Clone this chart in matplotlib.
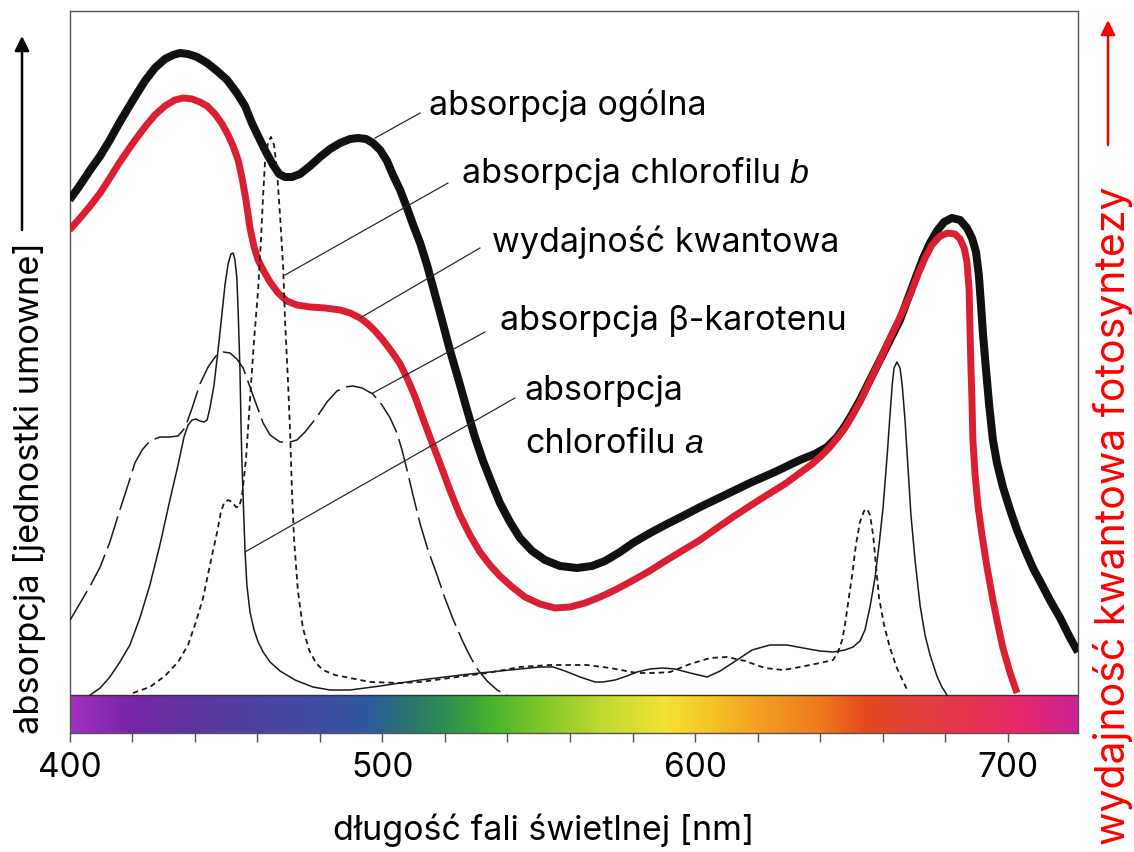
import numpy as np
import matplotlib
matplotlib.use("Agg")
import matplotlib.pyplot as plt
from matplotlib.colors import LinearSegmentedColormap

plt.rcParams['font.family'] = ['Inter', 'DejaVu Sans']

# ---------------- data (x: wavelength nm, y: arbitrary units) ----------------
total_nm = [400.0, 403.4, 406.6, 409.8, 412.9, 416.1, 420.3, 424.1, 427.3, 430.5,
            433.1, 435.3, 437.9, 440.8, 444.0, 447.2, 450.4, 453.5, 456.1, 458.3,
            460.6, 462.8, 465.1, 467.0, 468.9, 471.1, 473.7, 476.9, 480.1, 483.3,
            486.5, 489.7, 492.2, 494.8, 497.0, 499.3, 501.5, 503.4, 505.7, 507.9,
            510.1, 512.1, 514.3, 516.2, 518.8, 521.6, 524.2, 527.1, 529.6, 532.2,
            535.1, 537.6, 540.8, 544.0, 547.9, 552.0, 556.8, 562.2, 567.0, 571.2,
            576.0, 580.1, 585.6, 590.4, 596.1, 601.6, 609.6, 617.5, 625.5, 633.5,
            638.3, 642.2, 645.4, 647.9, 650.2, 652.7, 655.9, 659.1, 662.3, 665.5,
            669.4, 672.9, 675.1, 677.3, 679.6, 682.1, 684.7, 686.9, 688.5, 689.8,
            690.7, 691.4, 692.0, 693.0, 694.0, 695.2, 696.5, 698.4, 700.7, 702.9,
            705.5, 708.0, 710.9, 713.4, 716.7, 719.9, 722.4]
total_abs = [495, 510, 525, 539, 555, 573, 595, 614, 627, 636,
             640, 642, 641, 638, 632, 624, 615, 602, 589, 572,
             557, 543, 530, 521, 518, 518, 521, 529, 538, 546,
             552, 556, 557, 556, 552, 545, 534, 520, 505, 487,
             468, 452, 430, 408, 378, 345, 317, 285, 258, 234,
             211, 192, 173, 157, 144, 135, 129, 127, 129, 134,
             143, 152, 162, 170, 179, 188, 200, 212, 223, 235,
             241, 248, 258, 269, 281, 295, 315, 335, 355, 375,
             408, 437, 452, 464, 473, 477, 475, 467, 457, 443,
             420, 390, 362, 325, 290, 255, 232, 208, 185, 165,
             145, 127, 110, 95, 77, 57, 43]

qy_nm = [400.0, 403.4, 406.6, 409.8, 412.9, 416.1, 420.3, 424.1, 427.3, 430.5,
         433.7, 436.3, 439.2, 441.7, 444.0, 446.5, 448.8, 450.7, 452.3, 453.9,
         455.1, 456.4, 457.7, 459.0, 460.3, 461.9, 464.1, 466.7, 469.5, 472.7,
         476.9, 481.7, 486.5, 489.7, 492.9, 495.4, 497.7, 500.2, 503.1, 505.7,
         508.2, 510.5, 512.7, 515.2, 518.4, 521.6, 524.8, 528.0, 531.2, 534.4,
         537.6, 541.5, 545.6, 550.4, 555.2, 560.0, 564.8, 569.6, 574.4, 579.2,
         584.9, 591.0, 596.8, 601.6, 607.0, 612.1, 617.5, 623.0, 628.7, 633.5,
         637.4, 640.6, 643.1, 645.7, 647.9, 650.2, 652.7, 655.9, 659.1, 662.3,
         665.5, 668.7, 671.3, 673.5, 675.7, 678.3, 680.8, 683.1, 684.7, 686.0,
         686.9, 687.6, 687.9, 688.2, 688.5, 688.8, 689.5, 690.4, 691.7, 693.3,
         695.2, 696.8, 698.4, 700.7, 702.9]
qy_val = [465, 477, 489, 502, 517, 533, 552, 568, 580, 589,
          595, 597, 596, 593, 589, 581, 571, 560, 549, 535,
          518, 495, 467, 448, 435, 425, 413, 402, 394, 390,
          388, 387, 385, 382, 377, 371, 364, 355, 343, 331,
          315, 298, 279, 258, 232, 205, 180, 160, 143, 130,
          119, 108, 98, 91, 87, 88, 92, 98, 105, 113,
          123, 135, 146, 155, 167, 178, 189, 200, 211, 222,
          231, 240, 248, 258, 267, 279, 293, 314, 335, 357,
          378, 400, 421, 437, 450, 459, 462, 461, 456, 447,
          433, 405, 362, 325, 295, 255, 220, 190, 160, 128,
          95, 70, 47, 22, 2]

chla_nm = [406.6, 409.8, 412.9, 416.1, 419.3, 422.5, 425.7, 428.9, 432.1, 434.7,
           436.6, 437.9, 439.2, 440.4, 441.7, 443.0, 444.0, 444.9, 446.2, 447.5,
           448.8, 449.7, 450.7, 451.6, 452.3, 452.9, 453.5, 453.9, 454.2, 454.5,
           454.8, 455.1, 455.5, 456.1, 456.7, 457.7, 459.0, 460.3, 461.9, 464.1,
           467.3, 472.1, 477.8, 483.3, 489.7, 499.3, 512.1, 528.0, 544.0, 550.4,
           554.6, 558.4, 563.2, 568.0, 570.5, 574.4, 578.2, 581.4, 585.6, 589.7,
           593.6, 598.4, 603.8, 608.0, 613.4, 618.2, 623.9, 629.4, 634.5, 639.9,
           644.1, 647.9, 650.5, 652.7, 654.3, 655.9, 657.5, 658.8, 660.1, 661.4,
           662.3, 663.0, 663.6, 664.5, 665.5, 666.2, 667.1, 668.1, 669.0, 670.3,
           671.9, 673.5, 675.1, 677.3, 678.9, 680.5]
chla_abs = [0, 7, 18, 33, 50, 77, 110, 150, 195, 230,
            258, 270, 275, 276, 274, 273, 275, 287, 310, 345,
            383, 410, 431, 441, 442, 435, 417, 385, 355, 325,
            275, 235, 198, 145, 110, 83, 65, 53, 43, 33,
            24, 15, 8, 5, 5, 9, 15, 21, 26, 28,
            28, 24, 18, 13, 13, 15, 19, 23, 26, 27,
            26, 22, 18, 24, 35, 45, 50, 50, 47, 44,
            43, 45, 48, 54, 65, 88, 117, 150, 188, 240,
            280, 310, 327, 333, 327, 310, 275, 225, 180, 135,
            90, 60, 40, 19, 8, 0]

chlb_nm = [420.3, 425.7, 430.5, 434.7, 437.9, 440.4, 442.7, 444.9, 447.2, 448.4,
           449.4, 450.7, 452.0, 453.2, 454.2, 455.1, 456.4, 457.7, 459.0, 460.3,
           461.2, 461.9, 462.5, 463.5, 464.4, 465.4, 466.3, 467.3, 468.3, 468.9,
           469.9, 470.5, 471.1, 471.8, 473.0, 474.6, 476.6, 478.8, 481.0, 484.9,
           489.7, 496.1, 505.7, 512.1, 521.6, 533.5, 544.0, 553.6, 565.4, 572.8,
           581.4, 587.2, 592.0, 598.4, 604.8, 610.2, 616.0, 622.3, 628.1, 633.5,
           639.9, 644.1, 645.7, 647.0, 647.9, 648.9, 650.2, 651.4, 652.7, 654.0,
           655.0, 655.9, 656.9, 657.8, 658.8, 660.4, 662.3, 664.5, 667.8]
chlb_abs = [2, 8, 19, 33, 50, 73, 97, 130, 163, 183,
            192, 195, 193, 188, 188, 198, 235, 295, 355, 405,
            455, 500, 533, 553, 558, 550, 525, 480, 428, 375,
            310, 265, 205, 155, 105, 67, 45, 32, 25, 20,
            17, 13, 12, 13, 17, 22, 28, 30, 30, 27,
            22, 22, 23, 31, 37, 38, 34, 27, 25, 28,
            32, 35, 43, 55, 70, 92, 120, 150, 173, 184,
            186, 180, 160, 130, 97, 70, 47, 27, 5]

car_nm = [400.2, 403.4, 406.6, 409.8, 412.9, 416.1, 418.7, 420.9, 423.2, 425.7,
          428.9, 432.1, 434.7, 436.9, 439.2, 441.7, 444.3, 446.8, 449.1, 451.3,
          453.5, 455.5, 457.7, 459.9, 461.9, 464.1, 467.3, 470.5, 472.7, 475.3,
          479.1, 482.3, 485.5, 488.1, 490.6, 493.5, 497.0, 499.9, 502.5, 504.7,
          506.3, 507.9, 509.8, 512.1, 514.6, 517.5, 520.0, 522.6, 525.5, 528.0,
          530.6, 533.5, 536.7, 539.9]
car_abs = [75, 92, 109, 128, 153, 185, 210, 232, 245, 254,
           258, 258, 259, 267, 287, 311, 328, 339, 343, 342,
           336, 327, 308, 289, 272, 260, 253, 253, 255, 263,
           278, 293, 304, 308, 309, 307, 301, 290, 277, 262,
           245, 225, 200, 171, 145, 120, 97, 76, 55, 39,
           25, 14, 5, 0]

spectrum_nm = [400, 410, 420, 440, 460, 480, 495, 505, 520, 535, 550, 570, 590, 605, 620,
               640, 655, 670, 690, 705, 722.4]
spectrum_colors = ['#a032c0', '#8b2ab4', '#7526a6', '#5e36a0', '#4e44a2', '#3f4ea2', '#2f5aa0',
                   '#2a6e78', '#2f8e52', '#48b42c', '#7cc62a', '#c0da30', '#f2e334', '#f6c426',
                   '#f4a022', '#ee7a1c', '#e6491f', '#e2403a', '#e53352', '#e6286c', '#cc2296']

major_ticks = [400, 500, 600, 700]
minor_ticks = [420, 440, 460, 480, 520, 540, 560, 580, 620, 640, 660, 680]

labels = {
    'total': 'absorpcja ogólna',
    'chlb': 'absorpcja chlorofilu',
    'qy': 'wydajność kwantowa',
    'car': 'absorpcja β-karotenu',
    'chla1': 'absorpcja',
    'chla2': 'chlorofilu',
}

# ---------------- figure ----------------
W, H = 1134, 852
fig = plt.figure(figsize=(W / 100, H / 100), dpi=100)
ax = fig.add_axes([69.5 / W, 119 / H, 1008.5 / W, 722 / H])
XMIN, XMAX = 400, 722.4
YMIN, YMAX = -38, 684
ax.set_xlim(XMIN, XMAX)
ax.set_ylim(YMIN, YMAX)

# spectrum bar
lo, hi = spectrum_nm[0], spectrum_nm[-1]
stops = [((v - lo) / (hi - lo), c) for v, c in zip(spectrum_nm, spectrum_colors)]
cmap = LinearSegmentedColormap.from_list('spec', stops)
grad = np.linspace(lo, hi, 1500).reshape(1, -1)
ax.imshow(grad, extent=(XMIN, XMAX, YMIN, 0), aspect='auto', cmap=cmap,
          vmin=lo, vmax=hi, interpolation='bilinear', zorder=1)
ax.axhline(0, color='#333333', lw=1.0, zorder=2)

# thick curves
ax.plot(total_nm, total_abs, color='#111111', lw=5.8, zorder=4,
        solid_joinstyle='round', solid_capstyle='butt')
ax.plot(qy_nm, qy_val, color='#dc1e32', lw=5.0, zorder=5,
        solid_joinstyle='round', solid_capstyle='butt')

# thin curves
ax.plot(chla_nm, chla_abs, color='#1a1a1a', lw=1.1, zorder=6, solid_joinstyle='round')
ax.plot(chlb_nm, chlb_abs, color='#1a1a1a', lw=1.3, zorder=6, ls=(0, (3.0, 2.2)))
ax.plot(car_nm, car_abs, color='#1a1a1a', lw=1.1, zorder=6, ls=(0, (22, 4.5)))

# leader lines
leaders = [((497.7, 557), (512.1, 582)),
           ((468.9, 420), (521.0, 512)),
           ((492.9, 377), (531.2, 447)),
           ((497.0, 302), (532.8, 363)),
           ((456.1, 143), (542.4, 297))]
for (x1, y1), (x2, y2) in leaders:
    ax.plot([x1, x2], [y1, y2], color='#2a2a2a', lw=0.9, zorder=6)

fs = 24.5
ax.text(514.9, 580, labels['total'], fontsize=fs, va='baseline', ha='left')
t = ax.text(525.5, 512, labels['chlb'], fontsize=fs, va='baseline', ha='left')
ax.annotate('b', xy=(1, 0), xycoords=t, xytext=(6, 0), textcoords='offset points',
            va='bottom', ha='left', fontsize=fs, family='Liberation Sans', style='italic')
ax.text(535.1, 443, labels['qy'], fontsize=fs, va='baseline', ha='left')
ax.text(537.6, 365, labels['car'], fontsize=fs, va='baseline', ha='left')
ax.text(545.6, 295, labels['chla1'], fontsize=fs, va='baseline', ha='left')
t2 = ax.text(545.6, 242, labels['chla2'], fontsize=fs, va='baseline', ha='left')
ax.annotate('a', xy=(1, 0), xycoords=t2, xytext=(6, 0), textcoords='offset points',
            va='bottom', ha='left', fontsize=fs, family='Liberation Sans', style='italic')

# axes styling
for s in ax.spines.values():
    s.set_color('#555555')
    s.set_linewidth(1.0)
ax.set_yticks([])
ax.set_xticks(major_ticks)
ax.set_xticks(minor_ticks, minor=True)
ax.tick_params(axis='x', which='both', direction='out', length=6.5, width=1.0,
               color='#555555', labelsize=24, pad=7)

fig.text(544 / W, 1 - 830 / H, 'długość fali świetlnej [nm]', fontsize=24.5,
         ha='center', va='center')
fig.text(30 / W, 1 - 488 / H, 'absorpcja [jednostki umowne]', fontsize=24.8,
         rotation=90, ha='center', va='center')
fig.text(1113 / W, 1 - 516 / H, 'wydajność kwantowa fotosyntezy', fontsize=29.5,
         rotation=90, ha='center', va='center', color='#ff0000')

ax.annotate('', xy=(22, H - 36), xycoords='figure pixels', xytext=(22, H - 230),
            textcoords='figure pixels', annotation_clip=False,
            arrowprops=dict(arrowstyle='-|>', color='black', lw=1.8, mutation_scale=22,
                            shrinkA=0, shrinkB=0))
ax.annotate('', xy=(1108, H - 20), xycoords='figure pixels', xytext=(1108, H - 145),
            textcoords='figure pixels', annotation_clip=False,
            arrowprops=dict(arrowstyle='-|>', color='#ff0000', lw=1.8, mutation_scale=22,
                            shrinkA=0, shrinkB=0))

fig.savefig('out.png', dpi=100)
